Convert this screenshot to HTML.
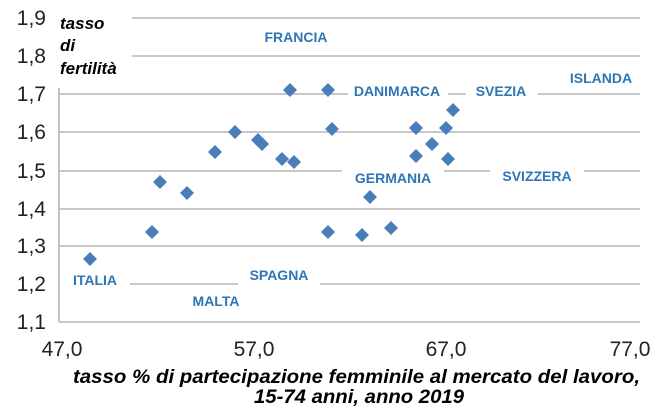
<!DOCTYPE html><html><head><style>body{margin:0;background:#fff}svg{display:block}</style></head><body>
<svg width="662" height="411" xmlns="http://www.w3.org/2000/svg" font-family="Liberation Sans, sans-serif">
<g stroke="#a6a6a6" stroke-width="1.3">
<line x1="132" y1="18" x2="640" y2="18"/><line x1="132" y1="56" x2="640" y2="56"/>
<line x1="59" y1="94" x2="640" y2="94"/><line x1="59" y1="132" x2="640" y2="132"/>
<line x1="59" y1="171" x2="640" y2="171"/><line x1="59" y1="209" x2="640" y2="209"/>
<line x1="59" y1="246" x2="640" y2="246"/><line x1="59" y1="284" x2="640" y2="284"/>
<line x1="59" y1="322" x2="640" y2="322"/><line x1="59" y1="88" x2="59" y2="322"/>
</g>
<g fill="#fff">
<rect x="250" y="26" width="94" height="22"/><rect x="348" y="80" width="100" height="22"/><rect x="466" y="80" width="72" height="22"/><rect x="560" y="67" width="82" height="22"/>
<rect x="342" y="167" width="102" height="22"/><rect x="490" y="165" width="94" height="22"/><rect x="60" y="269" width="70" height="22"/><rect x="238" y="264" width="82" height="22"/>
</g>
<g fill="#4a7ebb">
<path d="M90 252l7 7-7 7-7-7z"/><path d="M152 225l7 7-7 7-7-7z"/><path d="M160 175l7 7-7 7-7-7z"/><path d="M187 186l7 7-7 7-7-7z"/><path d="M215 145l7 7-7 7-7-7z"/><path d="M235 125l7 7-7 7-7-7z"/><path d="M258 133l7 7-7 7-7-7z"/><path d="M262 137l7 7-7 7-7-7z"/><path d="M282 152l7 7-7 7-7-7z"/><path d="M290 83l7 7-7 7-7-7z"/><path d="M294 155l7 7-7 7-7-7z"/><path d="M328 83l7 7-7 7-7-7z"/><path d="M332 122l7 7-7 7-7-7z"/><path d="M328 225l7 7-7 7-7-7z"/><path d="M362 228l7 7-7 7-7-7z"/><path d="M370 190l7 7-7 7-7-7z"/><path d="M391 221l7 7-7 7-7-7z"/><path d="M416 121l7 7-7 7-7-7z"/><path d="M416 149l7 7-7 7-7-7z"/><path d="M432 137l7 7-7 7-7-7z"/><path d="M446 121l7 7-7 7-7-7z"/><path d="M448 152l7 7-7 7-7-7z"/><path d="M453 103l7 7-7 7-7-7z"/>
</g>
<g fill="#2e75b6" font-weight="bold" font-size="14" text-anchor="middle">
<text x="296" y="42">FRANCIA</text><text x="397" y="96">DANIMARCA</text><text x="501" y="96">SVEZIA</text><text x="601" y="83">ISLANDA</text>
<text x="393" y="183">GERMANIA</text><text x="537" y="181">SVIZZERA</text><text x="95" y="285">ITALIA</text><text x="279" y="280">SPAGNA</text><text x="216" y="306">MALTA</text>
</g>
<g font-size="21" text-anchor="end" fill="#222">
<text x="46" y="25">1,9</text><text x="46" y="63">1,8</text><text x="46" y="101">1,7</text><text x="46" y="139">1,6</text><text x="46" y="178">1,5</text><text x="46" y="216">1,4</text><text x="46" y="253">1,3</text><text x="46" y="291">1,2</text><text x="46" y="329">1,1</text>
</g>
<g font-size="21" text-anchor="middle" fill="#222">
<text x="62" y="356">47,0</text><text x="254" y="356">57,0</text><text x="446" y="356">67,0</text><text x="630" y="356">77,0</text>
</g>
<g font-size="17" font-weight="bold" font-style="italic" fill="#000">
<text x="60" y="29">tasso</text><text x="60" y="51">di</text><text x="60" y="74">fertilità</text>
<text x="73" y="383" font-size="19" textLength="567" lengthAdjust="spacingAndGlyphs">tasso % di partecipazione  femminile  al mercato  del lavoro,</text>
<text x="254" y="403" font-size="19" textLength="210" lengthAdjust="spacingAndGlyphs">15-74 anni, anno 2019</text>
</g>
</svg></body></html>
